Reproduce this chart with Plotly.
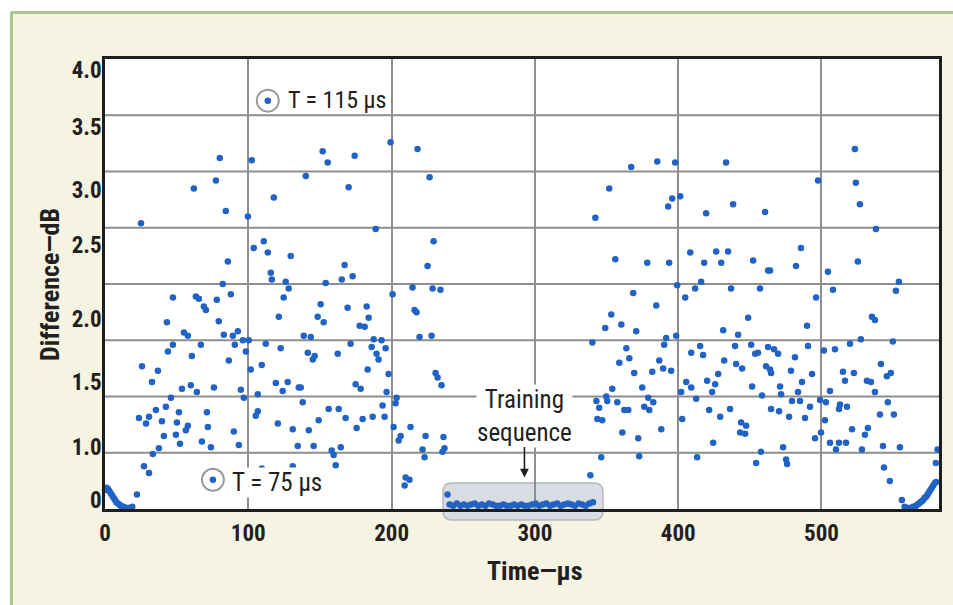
import plotly.graph_objects as go

# ---------------- data ----------------
# Difference (dB) versus time (microseconds)

edge_left_t = [0, 1, 2, 3, 4, 5, 6, 7, 8, 9, 10, 11, 12, 13, 14, 15, 16, 17, 18, 19]
edge_left_db = [0.17, 0.19, 0.18, 0.16, 0.14, 0.12, 0.10, 0.08, 0.06, 0.05,
                0.04, 0.03, 0.02, 0.02, 0.01, 0.01, 0.01, 0.01, 0.01, 0.02]

cluster_a = [(80.1, 3.12), (62.0, 2.85), (77.4, 2.92), (84.3, 2.65), (25.1, 2.54), (102.4, 3.10),
             (117.8, 2.77), (99.7, 2.60), (110.8, 2.38), (103.8, 2.32), (113.6, 2.28), (129.6, 2.25),
             (85.7, 2.20), (115.7, 2.10), (116.4, 2.04), (82.2, 2.00), (126.1, 2.02), (128.2, 1.96),
             (47.4, 1.88), (63.4, 1.89), (65.5, 1.87), (78.0, 1.86), (87.8, 1.91), (124.7, 1.88),
             (69.0, 1.80), (70.4, 1.77), (43.2, 1.66), (79.4, 1.67), (121.3, 1.71), (55.1, 1.57),
             (57.8, 1.54), (82.9, 1.55), (89.2, 1.54), (92.7, 1.58), (96.2, 1.50), (100.3, 1.50),
             (90.6, 1.46), (112.2, 1.47), (66.9, 1.46), (47.4, 1.46), (43.9, 1.40), (98.3, 1.40),
             (122.6, 1.43), (60.6, 1.36), (86.4, 1.32), (25.8, 1.27), (36.9, 1.23), (101.7, 1.24),
             (109.4, 1.28), (32.8, 1.13), (59.9, 1.10), (53.7, 1.07), (64.1, 1.04), (76.0, 1.08),
             (94.8, 1.06), (96.9, 0.99), (106.6, 1.02), (119.2, 1.12), (124.0, 1.05), (127.5, 1.13),
             (135.2, 1.08), (46.0, 0.99), (42.5, 0.91), (35.5, 0.88), (51.6, 0.86), (71.1, 0.86),
             (23.7, 0.81), (30.7, 0.82), (28.6, 0.76), (39.7, 0.78), (50.2, 0.77), (57.8, 0.74),
             (106.6, 0.87), (105.2, 0.83), (120.6, 0.76), (131.0, 0.71), (71.8, 0.73), (49.5, 0.66),
             (41.1, 0.65), (56.4, 0.70), (89.9, 0.69), (67.6, 0.60), (52.3, 0.58), (73.9, 0.55),
             (93.4, 0.57), (134.5, 0.56), (37.6, 0.54), (33.4, 0.49), (27.2, 0.38), (30.7, 0.32),
             (75.3, 0.26), (22.3, 0.13), (109.4, 0.36), (131.0, 0.38), (113.6, 3.63)]

cluster_b = [(199.3, 3.26), (218.1, 3.20), (151.9, 3.18), (174.2, 3.14), (155.4, 3.08), (140.1, 2.96),
             (226.5, 2.95), (170.0, 2.86), (188.9, 2.49), (229.3, 2.38), (167.2, 2.17), (225.1, 2.16),
             (172.8, 2.07), (165.2, 2.04), (154.0, 2.01), (200.7, 1.91), (214.6, 1.97), (228.6, 1.96),
             (234.1, 1.95), (150.5, 1.82), (169.3, 1.79), (182.6, 1.80), (216.0, 1.77), (217.4, 1.75),
             (148.4, 1.71), (152.6, 1.66), (184.0, 1.70), (177.7, 1.63), (181.2, 1.62), (138.7, 1.54),
             (143.6, 1.53), (171.4, 1.47), (187.5, 1.51), (193.0, 1.50), (186.1, 1.44), (195.8, 1.43),
             (219.5, 1.53), (227.9, 1.54), (141.5, 1.39), (145.0, 1.33), (146.3, 1.36), (162.4, 1.38),
             (189.5, 1.38), (190.9, 1.33), (183.3, 1.24), (197.9, 1.20), (230.7, 1.21), (232.1, 1.17),
             (234.8, 1.10), (136.6, 1.08), (174.9, 1.11), (178.4, 1.07), (196.5, 1.04), (203.5, 0.99),
             (202.8, 0.94), (138.0, 0.95), (156.1, 0.89), (163.1, 0.89), (193.7, 0.92), (167.9, 0.81),
             (179.8, 0.80), (186.8, 0.82), (195.1, 0.82), (149.1, 0.79), (142.2, 0.70), (175.6, 0.72),
             (201.4, 0.73), (213.2, 0.73), (206.3, 0.65), (204.9, 0.61), (223.7, 0.65), (236.2, 0.64),
             (145.6, 0.56), (164.5, 0.55), (158.2, 0.52), (159.6, 0.48), (221.6, 0.53), (223.0, 0.46),
             (236.9, 0.54), (235.5, 0.51), (161.0, 0.39), (209.8, 0.28), (209.1, 0.21), (212.5, 0.26),
             (239.0, 0.13)]

train_t = [240.5, 243, 245.5, 248, 250.5, 253, 255.5, 258, 260.5, 263, 265.5, 268, 270.5, 273,
           275.5, 278, 280.5, 283, 285.5, 288, 290.5, 293, 295.5, 298, 300.5, 303, 305.5, 308,
           310.5, 313, 315.5, 318, 320.5, 323, 325.5, 328, 330.5, 333, 335.5, 338, 340.5]
train_db = [0.04, 0.03, 0.05, 0.03, 0.04, 0.03, 0.04, 0.05, 0.03, 0.04, 0.03, 0.05, 0.04, 0.03,
            0.03, 0.04, 0.03, 0.03, 0.04, 0.03, 0.04, 0.03, 0.03, 0.04, 0.05, 0.03, 0.04, 0.05,
            0.03, 0.04, 0.05, 0.03, 0.04, 0.05, 0.04, 0.03, 0.05, 0.04, 0.03, 0.05, 0.06]

cluster_c = [(367.2, 3.04), (385.4, 3.09), (397.9, 3.08), (433.4, 3.08), (351.9, 2.85), (395.8, 2.76),
             (401.4, 2.78), (393.0, 2.69), (438.3, 2.71), (419.5, 2.63), (460.6, 2.64), (342.2, 2.59),
             (356.1, 2.22), (378.4, 2.19), (393.7, 2.19), (408.4, 2.28), (418.1, 2.19), (426.5, 2.29),
             (434.8, 2.29), (430.0, 2.19), (452.3, 2.21), (462.7, 2.12), (399.3, 1.99), (416.0, 2.02),
             (411.8, 1.96), (436.9, 1.96), (457.1, 1.96), (368.6, 1.92), (404.9, 1.88), (384.7, 1.81),
             (353.3, 1.73), (360.3, 1.64), (349.1, 1.61), (370.7, 1.58), (448.8, 1.70), (431.4, 1.59),
             (441.8, 1.55), (391.6, 1.52), (398.6, 1.54), (340.1, 1.48), (363.8, 1.43), (390.2, 1.46),
             (415.3, 1.45), (439.7, 1.45), (450.9, 1.46), (365.9, 1.34), (358.9, 1.30), (386.8, 1.32),
             (409.1, 1.39), (417.4, 1.37), (432.1, 1.32), (440.4, 1.29), (444.6, 1.25), (453.7, 1.38),
             (455.7, 1.39), (461.3, 1.27), (369.3, 1.21), (381.9, 1.22), (389.5, 1.25), (395.1, 1.23),
             (427.9, 1.20), (405.6, 1.13), (420.2, 1.14), (425.8, 1.11), (409.1, 1.08), (402.1, 1.04),
             (423.7, 1.04), (451.6, 1.09), (374.9, 1.08), (354.0, 1.07), (342.9, 0.96), (349.8, 1.00),
             (350.5, 0.96), (357.5, 0.95), (379.1, 0.99), (382.6, 0.95), (412.5, 0.98), (458.5, 1.01),
             (344.9, 0.90), (362.4, 0.88), (365.2, 0.88), (376.3, 0.91), (379.8, 0.88), (421.6, 0.88),
             (436.2, 0.89), (429.3, 0.82), (343.6, 0.80), (347.0, 0.79), (402.8, 0.80), (443.9, 0.77),
             (447.4, 0.74), (388.2, 0.71), (361.0, 0.68), (372.1, 0.63), (443.2, 0.68), (446.7, 0.67),
             (424.4, 0.59), (346.3, 0.46), (372.8, 0.47), (413.2, 0.46), (457.8, 0.51), (454.4, 0.41),
             (338.7, 0.30)]

cluster_d = [(523.3, 3.20), (497.6, 2.92), (524.0, 2.90), (526.8, 2.71), (538.0, 2.49), (485.7, 2.32),
             (482.2, 2.16), (464.1, 2.12), (525.4, 2.20), (504.5, 2.11), (554.0, 2.02), (508.0, 1.95),
             (551.9, 1.94), (496.2, 1.88), (535.2, 1.71), (537.3, 1.68), (489.9, 1.63), (462.7, 1.44),
             (466.9, 1.42), (490.6, 1.45), (509.4, 1.42), (519.9, 1.47), (527.5, 1.51), (549.8, 1.49),
             (501.7, 1.41), (469.7, 1.38), (481.5, 1.35), (464.1, 1.24), (464.8, 1.21), (478.7, 1.23),
             (493.4, 1.20), (515.0, 1.22), (522.6, 1.21), (516.4, 1.14), (486.4, 1.13), (541.5, 1.29),
             (548.4, 1.21), (545.6, 1.18), (531.7, 1.14), (534.5, 1.13), (537.3, 1.04), (471.1, 1.09),
             (505.9, 1.05), (471.8, 1.02), (483.6, 1.04), (479.4, 0.96), (485.0, 0.96), (499.0, 0.97),
             (503.1, 0.95), (512.9, 0.93), (512.2, 0.89), (517.8, 0.91), (546.3, 0.95), (464.8, 0.89),
             (470.4, 0.87), (492.0, 0.91), (477.4, 0.82), (488.5, 0.81), (502.4, 0.79), (540.8, 0.84),
             (550.5, 0.84), (521.3, 0.71), (532.4, 0.72), (530.3, 0.66), (499.7, 0.68), (495.5, 0.63),
             (505.9, 0.59), (512.2, 0.59), (517.1, 0.59), (510.1, 0.53), (528.2, 0.53), (542.9, 0.56),
             (554.7, 0.55), (581.0, 0.53), (473.2, 0.55), (475.3, 0.44), (476.0, 0.40), (543.6, 0.37),
             (547.7, 0.25), (579.8, 0.41), (556.1, 0.08)]

edge_right_t = [558, 559, 560, 561, 562, 563, 564, 565, 566, 567, 568, 569, 570, 571, 572,
                573, 574, 575, 576, 577, 578, 579, 580]
edge_right_db = [0.02, 0.01, 0.01, 0.01, 0.01, 0.01, 0.02, 0.02, 0.03, 0.04, 0.05, 0.06, 0.07,
                 0.08, 0.10, 0.11, 0.13, 0.15, 0.17, 0.19, 0.21, 0.23, 0.24]

x_ticks = [0, 100, 200, 300, 400, 500]
y_tick_text = ["4.0", "3.5", "3.0", "2.5", "2.0", "1.5", "1.0", "0"]
y_grid = [0.5, 1.0, 1.5, 2.0, 2.5, 3.0, 3.5]

# ---------------- layout geometry ----------------
W, H = 953, 605
ML, MR, MT, MB = 105, 14, 59, 96
PW, PH = W - ML - MR, H - MT - MB
X_MAX, Y_MAX = 582, 4.0


def px_x(px):
    return (px - ML) / PW


def px_y(py):
    return (H - MB - py) / PH


FONT = "Liberation Sans Narrow, Arial Narrow, Roboto Condensed, Roboto, sans-serif"
INK = "#231f20"
BLUE = "#2163c4"
CREAM = "#f5f3e2"
GREEN = "#a9c98f"

fig = go.Figure()

marker = dict(color=BLUE, size=6.5, line=dict(width=0))
groups = [
    (edge_left_t, edge_left_db),
    ([p[0] for p in cluster_a], [p[1] for p in cluster_a]),
    ([p[0] for p in cluster_b], [p[1] for p in cluster_b]),
    (train_t, train_db),
    ([p[0] for p in cluster_c], [p[1] for p in cluster_c]),
    ([p[0] for p in cluster_d], [p[1] for p in cluster_d]),
    (edge_right_t, edge_right_db),
]
for xs, ys in groups:
    fig.add_trace(go.Scatter(x=xs, y=ys, mode="markers", marker=marker,
                             showlegend=False, cliponaxis=False, hoverinfo="skip"))

shapes = []
# white page margin and green frame lines
shapes.append(dict(type="rect", xref="paper", yref="paper", layer="below",
                   x0=px_x(-5), x1=px_x(960), y0=px_y(12), y1=px_y(-5),
                   fillcolor="white", line=dict(width=0)))
shapes.append(dict(type="rect", xref="paper", yref="paper", layer="below",
                   x0=px_x(-5), x1=px_x(11), y0=px_y(610), y1=px_y(12),
                   fillcolor="white", line=dict(width=0)))
shapes.append(dict(type="line", xref="paper", yref="paper", layer="below",
                   x0=px_x(11), x1=px_x(960), y0=px_y(12.5), y1=px_y(12.5),
                   line=dict(color=GREEN, width=3)))
shapes.append(dict(type="line", xref="paper", yref="paper", layer="below",
                   x0=px_x(11.5), x1=px_x(11.5), y0=px_y(610), y1=px_y(12),
                   line=dict(color=GREEN, width=3)))

# rounded box around the training sequence
bx0, bx1 = px_x(443), px_x(603)
by0, by1 = px_y(520), px_y(483)
rx, ry = 9 / PW, 9 / PH
box_path = (f"M {bx0 + rx},{by1} L {bx1 - rx},{by1} Q {bx1},{by1} {bx1},{by1 - ry} "
            f"L {bx1},{by0 + ry} Q {bx1},{by0} {bx1 - rx},{by0} L {bx0 + rx},{by0} "
            f"Q {bx0},{by0} {bx0},{by0 + ry} L {bx0},{by1 - ry} Q {bx0},{by1} {bx0 + rx},{by1} Z")
shapes.append(dict(type="path", xref="paper", yref="paper", layer="below", path=box_path,
                   fillcolor="#d9dce2", line=dict(color="#b4b8be", width=1.5)))

# horizontal grid lines
for gy in y_grid:
    shapes.append(dict(type="line", xref="paper", yref="y", layer="below",
                       x0=0, x1=1, y0=gy, y1=gy, line=dict(color="#8e8e8e", width=2)))

# circles highlighting the two marked points
for (cx, cy) in [cluster_a[-1], cluster_a[90]]:
    shapes.append(dict(type="circle", xref="x", yref="y", xsizemode="pixel", ysizemode="pixel",
                       xanchor=cx, yanchor=cy, x0=-11, x1=11, y0=-11, y1=11,
                       line=dict(color="#9a9a9a", width=2)))

annotations = [
    dict(text="T = 115 µs", x=126, y=3.64, xref="x", yref="y", xanchor="left", yanchor="middle",
         showarrow=False, font=dict(family=FONT, size=24, color=INK)),
    dict(text="T = 75 µs", x=88.0, y=0.24, xref="x", yref="y", xanchor="left", yanchor="middle",
         showarrow=False, bgcolor="white", borderpad=0,
         font=dict(family=FONT, size=25, color=INK)),
    dict(text="Training<br>sequence", x=292.7, y=0.28, xref="x", yref="y",
         ax=0, ay=-62, axref="pixel", ayref="pixel", showarrow=True,
         arrowhead=2, arrowsize=1.1, arrowwidth=1.6, arrowcolor=INK,
         bgcolor="white", borderpad=0,
         font=dict(family=FONT, size=25, color=INK)),
    dict(text="<b>Time—µs</b>", x=px_x(535), y=px_y(571), xref="paper", yref="paper",
         xanchor="center", yanchor="middle",
         showarrow=False, font=dict(family=FONT, size=26, color=INK)),
    dict(text="<b>Difference—dB</b>", x=px_x(50), y=px_y(284), xref="paper", yref="paper",
         xanchor="center", yanchor="middle",
         textangle=-90, showarrow=False, font=dict(family=FONT, size=26, color=INK)),
]

fig.update_layout(
    width=W, height=H,
    margin=dict(l=ML, r=MR, t=MT, b=MB, pad=0),
    paper_bgcolor=CREAM, plot_bgcolor="white",
    shapes=shapes, annotations=annotations,
    font=dict(family=FONT, color=INK),
    xaxis=dict(range=[0, X_MAX], tickmode="array", tickvals=x_ticks,
               ticktext=[f"<b>{v}</b>" for v in x_ticks],
               showgrid=True, gridcolor="#8e8e8e", gridwidth=2, zeroline=False,
               showline=True, linecolor="#1e1e1e", linewidth=2.5, mirror=True,
               ticks="", ticklabelstandoff=2,
               tickfont=dict(family=FONT, size=23, color=INK), fixedrange=True),
    yaxis=dict(range=[0, Y_MAX], tickmode="array",
               tickvals=[3.90, 3.40, 2.84, 2.35, 1.69, 1.13, 0.55, 0.08],
               ticktext=[f"<b>{t}</b>" for t in y_tick_text],
               showgrid=False, zeroline=False,
               showline=True, linecolor="#1e1e1e", linewidth=2.5, mirror=True,
               ticks="", ticklabelstandoff=-4,
               tickfont=dict(family=FONT, size=23, color=INK), fixedrange=True),
)

fig.write_html("out.html", config={"displayModeBar": False})
